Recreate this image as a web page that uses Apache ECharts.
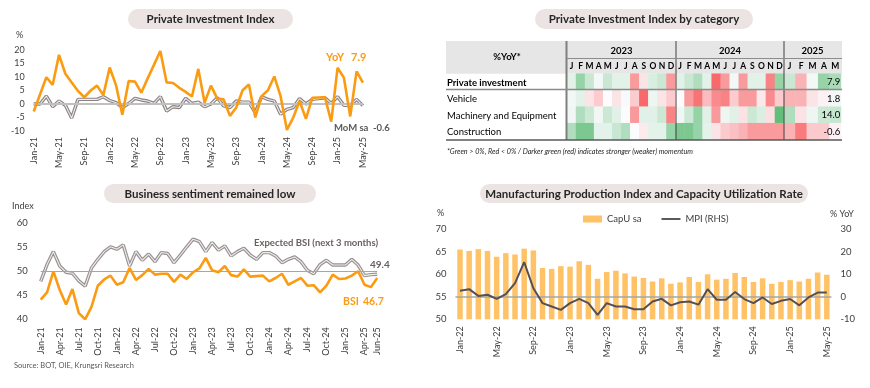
<!DOCTYPE html>
<html><head><meta charset="utf-8">
<script src="https://cdn.jsdelivr.net/npm/echarts@6/dist/echarts.min.js"></script>
<style>html,body{margin:0;padding:0;background:#fff}#c{width:870px;height:388px}</style>
</head><body><div id="c"></div>
<script>
const MON = ['Jan','Feb','Mar','Apr','May','Jun','Jul','Aug','Sep','Oct','Nov','Dec'];
function monthLabels(y, m, n) {
  const out = [];
  for (let k = 0; k < n; k++) {
    const mm = (m - 1 + k) % 12;
    const yy = y + Math.floor((m - 1 + k) / 12);
    out.push(MON[mm] + '-' + String(yy).slice(2));
  }
  return out;
}

// ---- Private Investment Index (Jan-21 .. May-25)
const piMonths = monthLabels(2021, 1, 53);
const piYoY = [-2.8, 3.5, 9.9, 7.1, 18.2, 11.2, 8.0, 4.8, 2.5, 5.0, 6.8, 3.3, 13.5, 7.0, -4.0, 8.5, 8.3, 4.2, 9.5, 14.5,
  19.6, 8.0, 7.8, 6.0, 4.5, 2.8, 13.0, 0.5, 6.8, 2.0, 1.7, -4.4, -1.3, 5.1, 7.2, -5.0, 2.9, 5.1, 10.2, 2.9,
  -9.6, -5.0, 1.1, -5.5, 2.3, 2.4, 2.5, -6.5, 13.4, 9.7, -4.6, 12.1, 7.9];
const piMoM = [0, 0, 2.9, -1.0, 1.1, -0.5, -5.2, 1.7, 1.7, 1.7, 1.7, 2.7, 1.3, 0.5, -1.3, 0.2, 2.1, 1.5, 1.1, 0.2,
  2.7, -2.6, -1.0, -1.3, 2.1, 0.2, 0.7, -1.0, 0, 2.3, -0.7, -1.3, 1.1, 0.7, 0.7, -3.2, 2.7, 1.7, 1.1, -3.8,
  -2.0, -1.3, 2.0, 0, 1.7, 2.0, 2.3, 0.2, 2.7, -0.5, -0.5, 1.7, -0.6];
const piTicks = [-10, 20, 5];

// ---- Heatmap: Private Investment Index by category (%YoY, Jan-23 .. May-25)
const heatRows = ['Private investment', 'Vehicle', 'Machinery and Equipment', 'Construction'];
const heatYears = ['2023', '2024', '2025'];
const heatMonths2324 = ['J','F','M','A','M','J','J','A','S','O','N','D','J','F','M','A','M','J','J','A','S','O','N','D'];
const heatMonths25 = ['J','F','M','A','M'];
const heatPrivate = [2.5, 10, 5, 1, 5, 2.5, 2.5, -10, -2.5, 3.5, 5, -10,
  2.5, 5, 7.5, 2.5, -15, -10, 1, -10, 2.5, 2.5, -12.5, 10,
  5, -7.5, 1, 10, 7.9];
const heatVehicle = [2, 5, -5, -10, 0, -5, 1, -10, -30, 3, -5, -10,
  0, -20, -28, -13, -23, -25, -10, -20, -20, -4, -23, -10,
  -15, -15, -5, -2, 1.8];
const heatMachinery = [3, 20, 13, 3, 13, 7, 0, -27, 7, 7, 13, -33,
  3, 13, 27, 7, -27, 4, 7, -7, 13, 9, -8, 40,
  20, -7, 4, 13, 14.0];
const heatConstruction = [4, 6.7, 6.7, 1.3, 1.3, 2.7, 4, 0, -1, 1.3, 1.3, 5.3,
  6.7, 6.7, 5.3, 1.3, -1.3, -2.7, -3.2, -4, -5.3, -5.3, -5.3, -5.3,
  -4, -7, -2.7, -2.7, -0.6];
const heatScale = [15, 30, 40, 8];

// ---- Business sentiment (Jan-21 .. Jun-25)
const bsiMonths = monthLabels(2021, 1, 54);
const bsi = [44.1, 45.6, 50.0, 46.1, 43.1, 46.3, 41.3, 40.0, 42.6, 47.0, 48.3, 49.1, 47.2, 47.7, 50.7, 48.2, 49.2, 50.5,
  49.3, 49.5, 49.5, 47.8, 49.3, 48.4, 49.8, 50.6, 52.8, 50.2, 49.8, 51.1, 49.2, 48.9, 50.4, 48.9, 49.0, 49.1,
  47.9, 48.6, 49.5, 47.2, 47.9, 48.6, 47.0, 47.1, 45.6, 47.0, 49.3, 48.4, 48.5, 49.1, 50.0, 47.2, 46.7, 48.6];
const bsiExpected = [47.9, 51.4, 54.1, 51.1, 49.8, 49.6, 48.0, 46.9, 50.7, 52.5, 54.1, 55.1, 54.6, 55.5, 51.1, 54.1, 52.3, 53.6,
  52.0, 53.9, 53.7, 51.8, 53.4, 55.1, 56.7, 56.2, 54.1, 56.0, 54.4, 55.3, 53.2, 54.1, 54.8, 53.4, 52.5, 53.9,
  53.9, 53.2, 51.8, 52.5, 53.0, 52.0, 50.2, 49.5, 51.4, 52.3, 51.3, 51.3, 51.3, 52.5, 51.3, 49.1, 49.3, 49.4];

// ---- Manufacturing (Jan-22 .. May-25)
const mfgMonths = monthLabels(2022, 1, 41);
const capU = [65.5, 65.2, 65.6, 65.2, 63.9, 64.7, 64.4, 65.7, 65.3, 61.4, 61.2, 61.8, 61.7, 62.9, 62.1, 59.0, 60.5, 60.8, 60.2, 59.5,
  59.2, 58.4, 59.1, 57.9, 58.2, 59.4, 58.3, 60.0, 58.8, 59.0, 60.3, 59.4, 58.3, 59.1, 57.9, 58.3, 58.7, 58.4, 59.0, 60.4, 59.9];
const mpi = [2.7, 3.4, 0.4, 0.9, -0.9, 1.2, 6.1, 15.4, 3.8, -2.8, -4.3, -5.8, -2.8, -0.9, -2.8, -8.0, -2.8, -4.3, -4.3, -5.5,
  -5.5, -2.1, -0.9, -3.8, -2.4, -2.1, -3.5, 3.4, -1.3, -1.3, 2.1, -1.0, -2.8, -0.3, -3.2, -1.8, -1.0, -3.8, -0.3, 1.9, 1.9];

// ------------------------------------------------------------------
const F = 'Lato, "Open Sans", sans-serif';
const ORANGE = '#fb9b12';
const TXT = '#404040';
const GRAYOUT = '#8c8282';
const GRAYIN = '#eeeeee';

const heatValues = [heatPrivate, heatVehicle, heatMachinery, heatConstruction];
const heatA = [], heatB = [];
heatValues.forEach((row, r) => row.forEach((v, c) => {
  if (c < 24) heatA.push([c, r, v, v / heatScale[r]]);
  else heatB.push([c - 24, r, v, v / heatScale[r]]);
}));

function txt(x, y, text, font, fill, align, extra) {
  return Object.assign({ type: 'text', z: 100, style: { x: x, y: y, text: text, font: font, fill: fill || '#262626',
    textAlign: align || 'left', textVerticalAlign: 'middle' } }, extra || {});
}
function pill(x, y, w, h, text) {
  return [
    { type: 'rect', z: 50, shape: { x: x, y: y, width: w, height: h, r: h / 2 }, style: { fill: '#ebe4e2' } },
    txt(x + w / 2, y + h / 2 + 0.5, text, 'bold 11.5px ' + F, '#262626', 'center')
  ];
}
function hline(x1, x2, y, color, w) {
  return { type: 'line', z: 100, shape: { x1: x1, y1: y, x2: x2, y2: y }, style: { stroke: color, lineWidth: w } };
}
function vline(x, y1, y2, color, w) {
  return { type: 'line', z: 100, shape: { x1: x, y1: y1, x2: x, y2: y2 }, style: { stroke: color, lineWidth: w } };
}

const axisLbl = { fontFamily: F, fontSize: 9, color: TXT };
const rotLbl = Object.assign({}, axisLbl, { rotate: 90 });

const graphic = [].concat(
  pill(128, 9, 165, 20, 'Private Investment Index'),
  pill(535, 9, 218, 20, 'Private Investment Index by category'),
  pill(104, 184, 212, 19, 'Business sentiment remained low'),
  pill(480, 184, 328, 19, 'Manufacturing Production Index and Capacity Utilization Rate'),
  [
    txt(16, 35, '%', '9px ' + F, TXT),
    txt(326, 57, 'YoY', 'bold 11px ' + F, ORANGE),
    txt(351, 57, '7.9', 'bold 11px ' + F, ORANGE),
    txt(334, 127.5, 'MoM sa', 'bold 9.5px ' + F, '#595959'),
    txt(373, 127.5, '-0.6', 'bold 9.5px ' + F, '#595959'),
    // table
    { type: 'rect', z: 0, shape: { x: 446, y: 41, width: 396, height: 32.7 }, style: { fill: '#e7e6e6' } },
    vline(566.5, 41, 140, '#7f7f7f', 2),
    vline(676, 41, 140, '#404040', 1),
    vline(784, 41, 140, '#404040', 1),
    hline(567, 842, 58.5, '#8c8c8c', 1),
    hline(446, 842, 89.5, '#8c8c8c', 1.5),
    hline(446, 842, 140, '#595959', 1.5),
    txt(507, 57, '%YoY*', 'bold 9.5px ' + F, '#000', 'center'),
    txt(621.5, 50.5, heatYears[0], 'bold 9.5px ' + F, '#000', 'center'),
    txt(730, 50.5, heatYears[1], 'bold 9.5px ' + F, '#000', 'center'),
    txt(812.5, 50.5, heatYears[2], 'bold 9.5px ' + F, '#000', 'center'),
    txt(447, 152, '*Green > 0%, Red < 0% / Darker green (red) indicates stronger (weaker) momentum', 'italic 7.2px ' + F, '#262626'),
    // business sentiment
    txt(12, 206, 'Index', '9px ' + F, TXT),
    txt(254, 242.5, 'Expected BSI (next 3 months)', 'bold 9.5px ' + F, '#6b6060'),
    txt(370, 264.5, '49.4', 'bold 10px ' + F, '#6b6060'),
    txt(343, 302, 'BSI', 'bold 10.5px ' + F, ORANGE),
    txt(363, 302, '46.7', 'bold 10.5px ' + F, ORANGE),
    txt(14, 366, 'Source: BOT, OIE, Krungsri Research', '7.5px ' + F, '#595959'),
    // manufacturing
    txt(437, 213.5, '%', '9px ' + F, TXT),
    txt(830, 214, '% YoY', '9px ' + F, TXT)
  ]
);

const option = {
  animation: false,
  textStyle: { fontFamily: F },
  graphic: graphic,
  legend: {
    data: [{ name: 'CapU sa', icon: 'rect' }, { name: 'MPI (RHS)', icon: 'path://M0,0 L20,0 L20,2 L0,2 Z', itemStyle: { color: '#555055' } }],
    left: 578, top: 209, itemWidth: 19, itemHeight: 7, itemGap: 20,
    textStyle: { fontFamily: F, fontSize: 9.5, color: TXT }
  },
  visualMap: {
    show: false, type: 'continuous', dimension: 3, min: -1, max: 1, seriesIndex: [3, 4],
    inRange: { color: ['#F8696B', '#FCFCFF', '#63BE7B'] }
  },
  grid: [
    { left: 33.7, top: 50, width: 329.2, height: 81 },
    { left: 567, top: 73.7, width: 217, height: 66 },
    { left: 784, top: 73.7, width: 57, height: 66 },
    { left: 40.7, top: 223.3, width: 336.5, height: 96 },
    { left: 455.4, top: 229.3, width: 376, height: 90 }
  ],
  xAxis: [
    { gridIndex: 0, type: 'category', data: piMonths, boundaryGap: false,
      axisLine: { show: false }, axisTick: { show: false },
      axisLabel: Object.assign({}, rotLbl, { interval: 3, margin: 6 }) },
    { gridIndex: 1, type: 'category', data: heatMonths2324, position: 'top',
      axisLine: { show: false }, axisTick: { show: false },
      axisLabel: { interval: 0, fontFamily: F, fontSize: 8.5, fontWeight: 'bold', color: '#000', margin: 3 } },
    { gridIndex: 2, type: 'category', data: heatMonths25, position: 'top',
      axisLine: { show: false }, axisTick: { show: false },
      axisLabel: { interval: 0, fontFamily: F, fontSize: 8.5, fontWeight: 'bold', color: '#000', margin: 3 } },
    { gridIndex: 3, type: 'category', data: bsiMonths, boundaryGap: false,
      axisLine: { show: false }, axisTick: { show: false },
      axisLabel: Object.assign({}, rotLbl, { margin: 8, interval: (i) => i % 3 === 0 || i === bsiMonths.length - 1 }) },
    { gridIndex: 4, type: 'category', data: mfgMonths, boundaryGap: true,
      axisLine: { show: false }, axisTick: { show: false },
      axisLabel: Object.assign({}, rotLbl, { interval: 3, margin: 7 }) }
  ],
  yAxis: [
    { gridIndex: 0, type: 'value', min: piTicks[0], max: piTicks[1], interval: piTicks[2],
      splitLine: { show: false }, axisLine: { show: false }, axisTick: { show: false },
      axisLabel: Object.assign({}, axisLbl, { margin: 9 }) },
    { gridIndex: 1, type: 'category', data: heatRows, inverse: true,
      axisLine: { show: false }, axisTick: { show: false },
      axisLabel: { interval: 0, align: 'left', margin: 120, fontFamily: F, fontSize: 9.5, color: '#000',
        padding: [1, 0, 0, 0],
        formatter: (v) => v === heatRows[0] ? '{b|' + v + '}' : v,
        rich: { b: { fontWeight: 'bold', fontFamily: F, fontSize: 9.5, color: '#000' } } } },
    { gridIndex: 2, type: 'category', data: heatRows, inverse: true, show: false },
    { gridIndex: 3, type: 'value', min: 40, max: 60, interval: 5,
      splitLine: { show: false }, axisLine: { show: false }, axisTick: { show: false },
      axisLabel: Object.assign({}, axisLbl, { fontSize: 9.5, margin: 13 }) },
    { gridIndex: 4, type: 'value', min: 50, max: 70, interval: 5,
      splitLine: { show: false }, axisLine: { show: false }, axisTick: { show: false },
      axisLabel: Object.assign({}, axisLbl, { fontSize: 9.5, margin: 9 }) },
    { gridIndex: 4, type: 'value', position: 'right', min: -10, max: 30, interval: 10,
      splitLine: { show: false }, axisLine: { show: false }, axisTick: { show: false },
      axisLabel: Object.assign({}, axisLbl, { fontSize: 9.5, margin: 9 }) }
  ],
  series: [
    { name: 'MoM sa', type: 'line', xAxisIndex: 0, yAxisIndex: 0, data: piMoM, symbol: 'none',
      lineStyle: { color: GRAYOUT, width: 3.4 }, z: 3,
      markLine: { silent: true, symbol: 'none', label: { show: false },
        lineStyle: { color: '#c0c0c0', width: 2, type: 'solid' }, data: [{ yAxis: 0 }] } },
    { name: 'MoM sa inner', type: 'line', xAxisIndex: 0, yAxisIndex: 0, data: piMoM, symbol: 'none',
      lineStyle: { color: GRAYIN, width: 1.1 }, z: 4 },
    { name: 'YoY', type: 'line', xAxisIndex: 0, yAxisIndex: 0, data: piYoY, symbol: 'none',
      lineStyle: { color: ORANGE, width: 2.6 }, z: 5 },
    { name: 'heatA', type: 'heatmap', xAxisIndex: 1, yAxisIndex: 1, data: heatA, emphasis: { disabled: true } },
    { name: 'heatB', type: 'heatmap', xAxisIndex: 2, yAxisIndex: 2, data: heatB, emphasis: { disabled: true },
      label: { show: true, position: 'insideRight', distance: 1, fontFamily: F, fontSize: 9.5, color: '#000',
        formatter: (p) => p.data[0] === 4 ? p.data[2].toFixed(1) : '' } },
    { name: 'Expected BSI', type: 'line', xAxisIndex: 3, yAxisIndex: 3, data: bsiExpected, symbol: 'none',
      lineStyle: { color: '#9a9090', width: 3.4 }, z: 3,
      markLine: { silent: true, symbol: 'none', label: { show: false },
        lineStyle: { color: '#a6a6a6', width: 1, type: 'solid' }, data: [{ yAxis: 50 }] } },
    { name: 'Expected BSI inner', type: 'line', xAxisIndex: 3, yAxisIndex: 3, data: bsiExpected, symbol: 'none',
      lineStyle: { color: GRAYIN, width: 1.1 }, z: 4 },
    { name: 'BSI', type: 'line', xAxisIndex: 3, yAxisIndex: 3, data: bsi, symbol: 'none',
      lineStyle: { color: ORANGE, width: 2.6 }, z: 5 },
    { name: 'CapU sa', type: 'bar', xAxisIndex: 4, yAxisIndex: 4, data: capU, barWidth: 5.5,
      itemStyle: { color: '#ffc266' } },
    { name: 'MPI (RHS)', type: 'line', xAxisIndex: 4, yAxisIndex: 5, data: mpi, symbol: 'none',
      lineStyle: { color: '#555055', width: 2 }, itemStyle: { color: '#555055' }, z: 5,
      markLine: { silent: true, symbol: 'none', label: { show: false },
        lineStyle: { color: '#a6a6a6', width: 1.5, type: 'solid' }, data: [{ yAxis: 0 }] } }
  ]
};
const chart = echarts.init(document.getElementById('c'));
chart.setOption(option);
</script>
</body></html>
